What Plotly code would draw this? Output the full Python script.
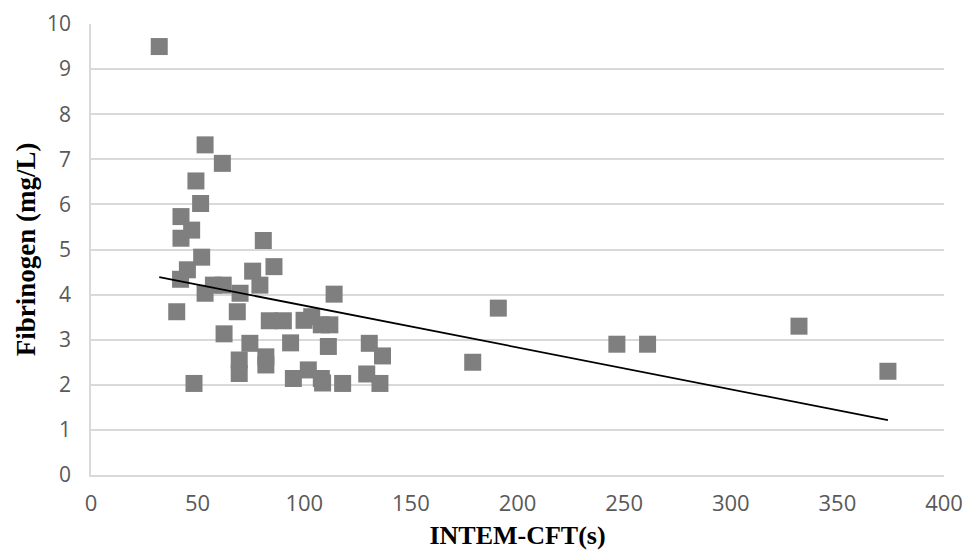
import numpy as np
import plotly.graph_objects as go

cft = [32, 53.5, 61.6, 49.2, 51.4, 42.2, 47.2, 42.2, 51.9, 45.2, 42.0, 53.5, 57.4, 62.0,
       69.9, 40.2, 68.6, 62.4, 74.5, 69.5, 69.5, 48.3,
       80.8, 85.8, 75.8, 79.2, 114.0, 83.6, 90.2, 93.6, 99.9, 103.5, 108.0, 112.0,
       111.3, 82.0, 82.0, 94.9, 101.9, 108.0, 108.6, 118.0, 130.5, 136.7, 129.3, 135.5,
       179, 191, 246.6, 261, 332, 373.7]
fib = [9.5, 7.32, 6.91, 6.52, 6.02, 5.73, 5.43, 5.25, 4.83, 4.55, 4.34, 4.03, 4.21, 4.21,
       4.03, 3.62, 3.62, 3.13, 2.92, 2.55, 2.25, 2.03,
       5.2, 4.62, 4.52, 4.21, 4.01, 3.42, 3.42, 2.93, 3.43, 3.51, 3.33, 3.33,
       2.85, 2.62, 2.44, 2.14, 2.33, 2.14, 2.04, 2.03, 2.92, 2.64, 2.24, 2.03,
       2.5, 3.7, 2.9, 2.9, 3.3, 2.3]

x_ticks = [0, 50, 100, 150, 200, 250, 300, 350, 400]
y_ticks = list(range(0, 11))

slope, intercept = np.polyfit(cft, fib, 1)
xl = np.array([min(cft), max(cft)])
yl = slope * xl + intercept

fig = go.Figure()
fig.add_trace(go.Scatter(x=cft, y=fib, mode="markers",
                         marker=dict(symbol="square", size=17, color="#7f7f7f"),
                         showlegend=False))
fig.add_trace(go.Scatter(x=xl, y=yl, mode="lines",
                         line=dict(color="black", width=1.8), showlegend=False))

fig.update_layout(
    width=971, height=546,
    margin=dict(l=83, r=35, t=16, b=79, autoexpand=False),
    paper_bgcolor="white", plot_bgcolor="white",
    xaxis=dict(range=[0, 400], tickvals=x_ticks, showgrid=False, zeroline=False,
               showline=True, linecolor="#d9d9d9", linewidth=1.5, ticks="",
               tickfont=dict(family="Open Sans", size=22, color="#595959"),
               ticklabelstandoff=8, ticklabeloverflow="allow", automargin=False,
               title=dict(text="INTEM-CFT(s)", standoff=10,
                          font=dict(family="Liberation Serif", size=26, color="black", weight="bold"))),
    yaxis=dict(range=[0, 10], tickvals=y_ticks, showgrid=True, gridcolor="#d9d9d9", gridwidth=1.5,
               zeroline=False, showline=True, linecolor="#d9d9d9", linewidth=1.5, ticks="",
               tickfont=dict(family="Open Sans", size=21, color="#595959"),
               ticklabelstandoff=14, ticklabeloverflow="allow", automargin=False,
               title=dict(text="Fibrinogen (mg/L)", standoff=4,
                          font=dict(family="Liberation Serif", size=27, color="black", weight="bold"))),
)
fig.write_html("out.html")
